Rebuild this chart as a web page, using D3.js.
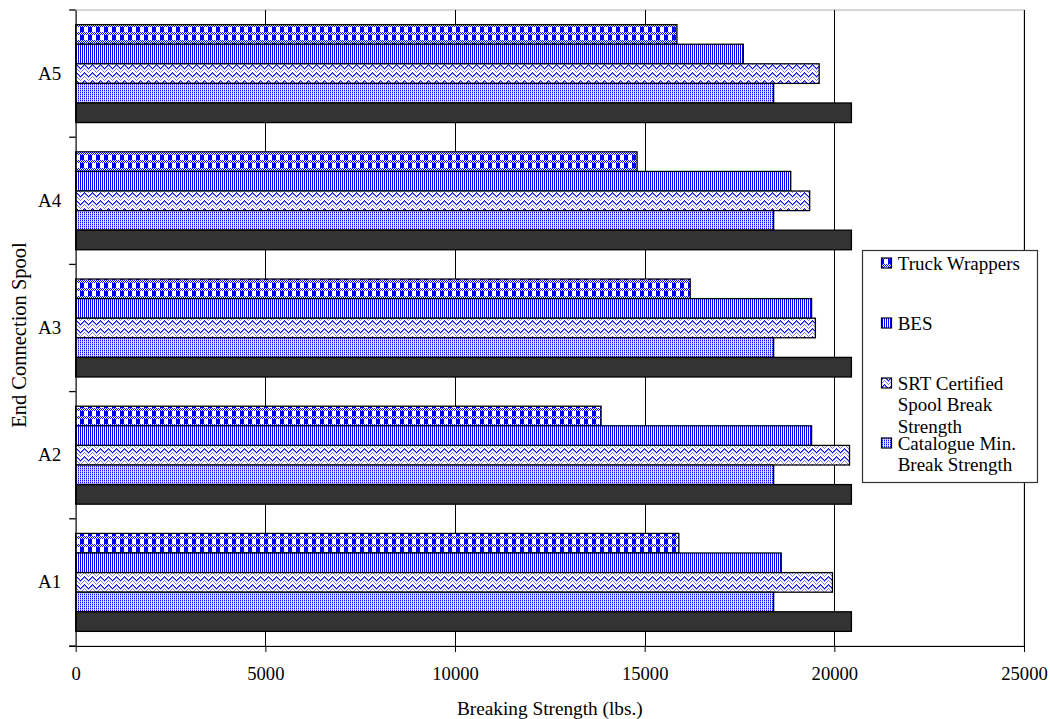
<!DOCTYPE html>
<html>
<head>
<meta charset="utf-8">
<script src="https://cdn.jsdelivr.net/npm/d3@7"></script>
<style>
  html, body { margin: 0; padding: 0; background: #fff; }
  svg { display: block; }
  text { font-family: "Liberation Serif", "Times New Roman", serif; fill: #000; }
</style>
</head>
<body>
<svg id="chart" width="1050" height="719"></svg>
<script>
// ---- data ----
const categories = ["A1", "A2", "A3", "A4", "A5"];
const seriesNames = ["Truck Wrappers", "BES", "SRT Certified Spool Break Strength", "Catalogue Min. Break Strength", "Series 5"];
const truckWrappers = [15900, 13850, 16200, 14800, 15850];
const bes = [18600, 19400, 19400, 18850, 17600];
const srtCertified = [19950, 20400, 19500, 19350, 19600];
const catalogueMin = [18400, 18400, 18400, 18400, 18400];
const series5 = [20450, 20450, 20450, 20450, 20450];
const xTicks = [0, 5000, 10000, 15000, 20000, 25000];
const legendSeries = ["Truck Wrappers", "BES", "SRT Certified Spool Break Strength", "Catalogue Min. Break Strength"];
const xTitle = "Breaking Strength (lbs.)";
const yTitle = "End Connection Spool";

const seriesValues = [truckWrappers, bes, srtCertified, catalogueMin, series5];
const patternIds = ["pTruck", "pBes", "pSrt", "pCat", "pDark"];

const svg = d3.select("#chart");
const defs = svg.append("defs");

// ---- patterns (pixel art tiles) ----
function pixelPattern(id, w, h, bg, pixels) {
  const p = defs.append("pattern").attr("id", id).attr("patternUnits", "userSpaceOnUse")
    .attr("width", w).attr("height", h);
  p.append("rect").attr("width", w).attr("height", h).attr("fill", bg);
  pixels.forEach(([px, py, pw, ph, c]) => {
    p.append("rect").attr("x", px).attr("y", py).attr("width", pw).attr("height", ph)
      .attr("fill", c).attr("shape-rendering", "crispEdges");
  });
}
const B = "#0000ff", L = "#8080ff";
// Truck: dither band + blue squares
{
  const px = [];
  for (let yy = 0; yy < 3; yy++) for (let xx = 0; xx < 8; xx++) if ((xx + yy) % 2 === 0) px.push([xx, yy, 1, 1, B]);
  px.push([0, 3, 4, 5, B]);
  pixelPattern("pTruck", 8, 8, "#fff", px);
}
// BES: vertical stripes
pixelPattern("pBes", 2, 1, "#fff", [[0, 0, 1, 1, B]]);
// SRT: zigzag
{
  const px = [];
  for (let xx = 0; xx < 8; xx++) {
    const yA = Math.abs(xx - 4);
    px.push([xx, yA % 8, 1, 1, B]);
    px.push([xx, (yA + 1) % 8, 1, 1, L]);
    px.push([xx, (yA + 4) % 8, 1, 1, L]);
  }
  pixelPattern("pSrt", 8, 8, "#fff", px);
}
// Catalogue: dotted vertical lines
pixelPattern("pCat", 2, 2, "#fff", [[0, 0, 1, 1, B], [0, 1, 1, 1, "#a0a0ff"], [1, 1, 1, 1, "#d8d8ff"]]);
pixelPattern("pDark", 2, 2, "#333333", []);

// ---- scales ----
const x = d3.scaleLinear().domain([0, 25000]).range([75.7, 1024]);
const y = d3.scaleBand().domain(categories.slice().reverse()).range([10, 646])
  .paddingInner(0.23).paddingOuter(0.115);
const ys = d3.scaleBand().domain(seriesNames).range([0, y.bandwidth()]);

const plotTop = 10, plotBottom = 646, plotLeft = x(0), plotRight = x(25000);

// plot border (gray)
svg.append("rect").attr("x", plotLeft).attr("y", plotTop)
  .attr("width", plotRight - plotLeft).attr("height", plotBottom - plotTop)
  .attr("fill", "none").attr("stroke", "#b0b0b0").attr("stroke-width", 1);

// gridlines
svg.append("g").selectAll("line").data(xTicks.filter(d => d > 0)).join("line")
  .attr("x1", d => Math.round(x(d)) + 0.5).attr("x2", d => Math.round(x(d)) + 0.5)
  .attr("y1", plotTop).attr("y2", plotBottom)
  .attr("stroke", "#000").attr("stroke-width", 1);

// bars
const rows = [];
categories.forEach((c, ci) => seriesNames.forEach((s, si) => rows.push({ c, s, si, v: seriesValues[si][ci] })));
svg.append("g").selectAll("rect").data(rows).join("rect")
  .attr("x", x(0))
  .attr("y", d => y(d.c) + ys(d.s))
  .attr("width", d => x(d.v) - x(0))
  .attr("height", ys.bandwidth())
  .attr("fill", d => `url(#${patternIds[d.si]})`)
  .attr("stroke", "#000").attr("stroke-width", 1.3);

// x axis
const xAxis = svg.append("g").attr("transform", `translate(0,${plotBottom})`)
  .call(d3.axisBottom(x).tickValues(xTicks).tickFormat(d3.format("d")).tickSize(6).tickSizeOuter(0));
xAxis.select(".domain").attr("stroke", "#000");
xAxis.selectAll(".tick line").attr("stroke", "#000");
xAxis.selectAll("text").attr("y", 21).attr("font-size", "18.6px")
  .style("font-family", "'Liberation Serif', 'Times New Roman', serif");
svg.append("line").attr("x1", plotLeft - 6.5).attr("x2", plotLeft).attr("y1", plotBottom + 0.5).attr("y2", plotBottom + 0.5)
  .attr("stroke", "#000");

// y axis
const yAxis = svg.append("g").attr("transform", `translate(${plotLeft},0)`)
  .call(d3.axisLeft(y).tickSize(0).tickPadding(14.5));
yAxis.select(".domain").attr("stroke", "#000");
yAxis.selectAll("text").attr("font-size", "19px")
  .style("font-family", "'Liberation Serif', 'Times New Roman', serif");
// category boundary ticks
const bounds = categories.map(c => y(c) - y.step() * y.paddingOuter());
bounds.push(plotBottom);
svg.append("g").selectAll("line").data(bounds).join("line")
  .attr("x1", plotLeft - 6.5).attr("x2", plotLeft)
  .attr("y1", d => d).attr("y2", d => d)
  .attr("stroke", "#000").attr("stroke-width", 1.3);

// axis titles
svg.append("text").attr("x", (plotLeft + plotRight) / 2).attr("y", 715)
  .attr("text-anchor", "middle").attr("font-size", "19.3px").text(xTitle);
svg.append("text").attr("transform", `translate(26,335) rotate(-90)`)
  .attr("text-anchor", "middle").attr("font-size", "20.5px").text(yTitle);

// legend
const lg = svg.append("g");
lg.append("rect").attr("x", 862.5).attr("y", 250.5).attr("width", 175).attr("height", 232)
  .attr("fill", "#fff").attr("stroke", "#333").attr("stroke-width", 1.2);
legendSeries.forEach((s, i) => {
  const base = 269.5 + i * 60;
  const si = seriesNames.indexOf(s);
  lg.append("rect").attr("x", 881.5).attr("y", base - 11.5).attr("width", 10).attr("height", 10)
    .attr("fill", `url(#${patternIds[si]})`).attr("stroke", "#000").attr("stroke-width", 1.2);
  const t = lg.append("text").attr("x", 897.7).attr("y", base).attr("font-size", "19px");
  // wrap
  const words = s.split(" ");
  let line = [], lineNo = 0;
  let ts = t.append("tspan").attr("x", 897.7).attr("y", base);
  words.forEach(w => {
    line.push(w);
    ts.text(line.join(" "));
    if (ts.node().getComputedTextLength() > 135 && line.length > 1) {
      line.pop();
      ts.text(line.join(" "));
      line = [w];
      lineNo++;
      ts = t.append("tspan").attr("x", 897.7).attr("y", base + lineNo * 21.6).text(w);
    }
  });
});
</script>
</body>
</html>
